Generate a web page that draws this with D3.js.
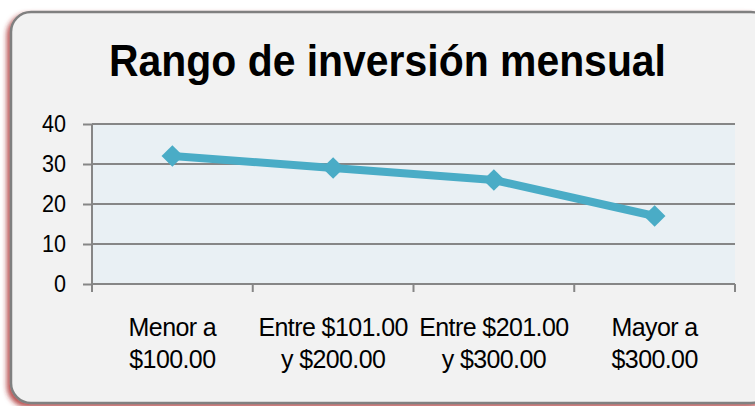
<!DOCTYPE html>
<html>
<head>
<meta charset="utf-8">
<script src="https://cdn.jsdelivr.net/npm/d3@7"></script>
<style>
  html, body { margin: 0; padding: 0; background: #ffffff; }
  svg { display: block; }
</style>
</head>
<body>
<svg id="chart" width="755" height="406"></svg>
<script>
const title = "Rango de inversión mensual";
const categories = ["Menor a\n$100.00", "Entre $101.00\ny $200.00", "Entre $201.00\ny $300.00", "Mayor a\n$300.00"];
const values = [32, 29, 26, 17];
const yTicks = [0, 10, 20, 30, 40];

const FONT = "'Liberation Sans', Arial, sans-serif";
const svg = d3.select("#chart");
const defs = svg.append("defs");
const f = defs.append("filter").attr("id", "sh").attr("x", "-10%").attr("y", "-10%").attr("width", "120%").attr("height", "120%");
f.append("feDropShadow").attr("dx", -3).attr("dy", 3).attr("stdDeviation", 2.5)
  .attr("flood-color", "#a82828").attr("flood-opacity", 0.8);

// outer frame
svg.append("rect")
  .attr("x", 11).attr("y", 12).attr("width", 760).attr("height", 391)
  .attr("rx", 20).attr("ry", 20)
  .attr("fill", "#f2f2f2").attr("stroke", "#808080").attr("stroke-width", 2.5)
  .attr("filter", "url(#sh)");

const pLeft = 92, pRight = 735, pTop = 124, pBottom = 284;

const x = d3.scaleBand().domain(categories).range([pLeft, pRight]).padding(0);
const y = d3.scaleLinear().domain([0, 40]).range([pBottom, pTop]);

// plot background
svg.append("rect").attr("x", pLeft).attr("y", pTop).attr("width", pRight - pLeft).attr("height", pBottom - pTop)
  .attr("fill", "#e9f0f4");

// title
svg.append("text").attr("x", 387.5).attr("y", 76).attr("text-anchor", "middle")
  .attr("font-family", FONT)
  .attr("font-weight", "bold").attr("font-size", 45).attr("fill", "#000")
  .attr("textLength", 557).attr("lengthAdjust", "spacingAndGlyphs")
  .text(title);

// gridlines
svg.append("g").selectAll("line").data(yTicks.filter(d => d > 0)).join("line")
  .attr("x1", pLeft).attr("x2", pRight)
  .attr("y1", d => y(d)).attr("y2", d => y(d))
  .attr("stroke", "#868686").attr("stroke-width", 2);

// y axis
const yAxis = svg.append("g").attr("transform", `translate(${pLeft},0)`)
  .call(d3.axisLeft(y).tickValues(yTicks).tickSize(9).tickPadding(17).tickFormat(d3.format("d")));
yAxis.select(".domain").attr("stroke", "#868686").attr("stroke-width", 2).attr("d", `M0,${pTop}V${pBottom + 8}`);
yAxis.selectAll(".tick line").attr("stroke", "#868686").attr("stroke-width", 2);
yAxis.selectAll(".tick text").attr("font-family", FONT)
  .attr("font-size", 24).attr("fill", "#000")
  .attr("textLength", d => String(d).length === 1 ? 12 : 24).attr("lengthAdjust", "spacingAndGlyphs");

// x axis
const xAxis = svg.append("g").attr("transform", `translate(0,${pBottom})`)
  .call(d3.axisBottom(x).tickSize(0).tickFormat(""));
xAxis.select(".domain").attr("stroke", "#868686").attr("stroke-width", 2).attr("d", `M${pLeft},0H${pRight}`);
// category boundary ticks
const bounds = categories.map(c => x(c)).concat([pRight]);
svg.append("g").selectAll("line").data(bounds).join("line")
  .attr("x1", d => d).attr("x2", d => d).attr("y1", pBottom).attr("y2", pBottom + 8)
  .attr("stroke", "#868686").attr("stroke-width", 2);

// category labels
const lab = svg.append("g").selectAll("text").data(categories).join("text")
  .attr("text-anchor", "middle")
  .attr("font-family", FONT)
  .attr("font-size", 25).attr("fill", "#000");
lab.each(function(d) {
  const c = x(d) + x.bandwidth() / 2;
  d.split("\n").forEach((line, i) => {
    d3.select(this).append("tspan").attr("x", c).attr("y", 336 + i * 32)
      .attr("letter-spacing", -0.6).text(line);
  });
});

// line
const cx = d => x(d) + x.bandwidth() / 2;
svg.append("path").datum(categories)
  .attr("fill", "none").attr("stroke", "#4aacc6").attr("stroke-width", 8)
  .attr("stroke-linejoin", "round")
  .attr("d", d3.line().x(d => cx(d)).y((d, i) => y(values[i])));

// markers
svg.append("g").selectAll("path").data(categories).join("path")
  .attr("transform", (d, i) => `translate(${cx(d)},${y(values[i])})`)
  .attr("d", d3.symbol().type(d3.symbolDiamond2).size(300))
  .attr("fill", "#4aacc6");
</script>
</body>
</html>
